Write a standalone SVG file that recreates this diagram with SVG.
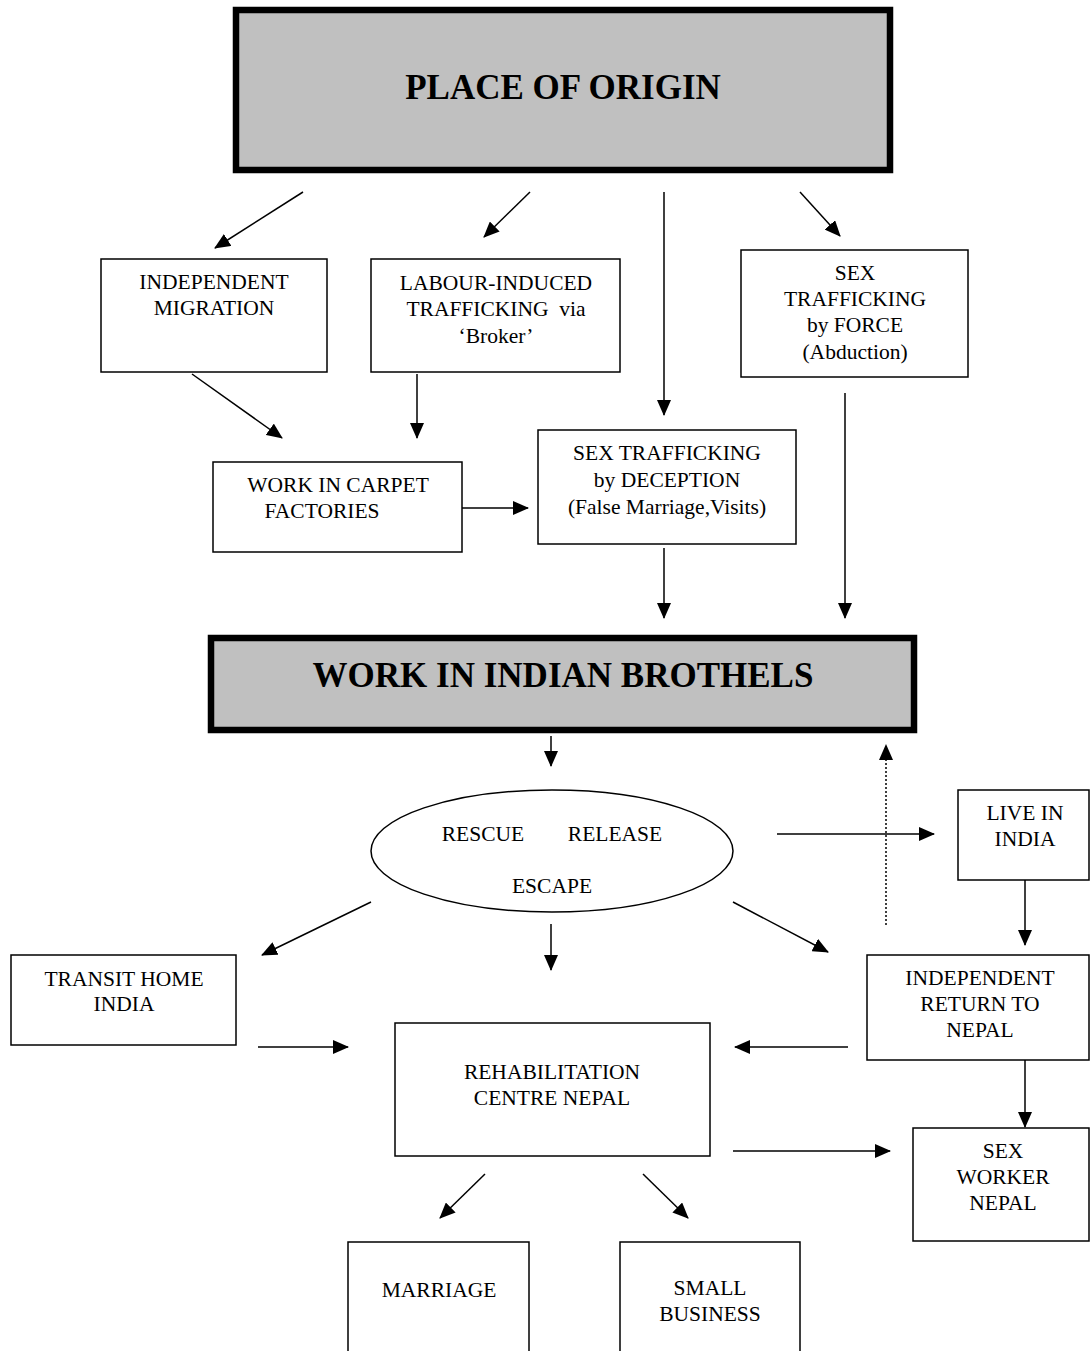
<svg xmlns="http://www.w3.org/2000/svg" width="1090" height="1351" viewBox="0 0 1090 1351">
<style>
.box{fill:#fff;stroke:#000;stroke-width:1.5}
.big{fill:#c0c0c0;stroke:#000;stroke-width:6.5}
.t{font-family:"Liberation Serif","Times New Roman",serif;font-size:21.5px;text-anchor:middle;fill:#000}
.b{font-family:"Liberation Serif","Times New Roman",serif;font-size:35px;font-weight:bold;text-anchor:middle;fill:#000}
.c{stroke:#000;stroke-width:1.5;fill:none;marker-end:url(#ah)}
.d{stroke:#000;stroke-width:1.5;fill:none;stroke-dasharray:2 2;marker-end:url(#ah)}
</style>
<defs>
<marker id="ah" markerUnits="userSpaceOnUse" markerWidth="16" markerHeight="14" refX="15" refY="7" orient="auto">
<path d="M0,0 L16,7 L0,14 Z" fill="#000"/>
</marker>
</defs>
<rect width="1090" height="1351" fill="#fff"/>
<g id="origin"><rect class="big" x="236" y="10" width="654" height="160"/><text class="b" x="563" y="99">PLACE OF ORIGIN</text></g>
<g id="indep-migration"><rect class="box" x="101" y="259" width="226" height="113"/><text class="t" x="214" y="289">INDEPENDENT</text><text class="t" x="214" y="315">MIGRATION</text></g>
<g id="labour"><rect class="box" x="371" y="259" width="249" height="113"/><text class="t" x="496" y="290">LABOUR-INDUCED</text><text class="t" x="496" y="316">TRAFFICKING&#160; via</text><text class="t" x="496" y="343">‘Broker’</text></g>
<g id="force"><rect class="box" x="741" y="250" width="227" height="127"/><text class="t" x="855" y="280">SEX</text><text class="t" x="855" y="306">TRAFFICKING</text><text class="t" x="855" y="332">by FORCE</text><text class="t" x="855" y="359">(Abduction)</text></g>
<g id="carpet"><rect class="box" x="213" y="462" width="249" height="90"/><text class="t" x="338" y="492">WORK IN CARPET</text><text class="t" x="322" y="518">FACTORIES</text></g>
<g id="deception"><rect class="box" x="538" y="430" width="258" height="114"/><text class="t" x="667" y="460">SEX TRAFFICKING</text><text class="t" x="667" y="487">by DECEPTION</text><text class="t" x="667" y="514">(False Marriage,Visits)</text></g>
<g id="brothels"><rect class="big" x="211" y="638" width="703" height="92"/><text class="b" x="563" y="687">WORK IN INDIAN BROTHELS</text></g>
<g id="rescue"><ellipse cx="552" cy="851" rx="181" ry="61" fill="#fff" stroke="#000" stroke-width="1.5"/><text class="t" x="483" y="841">RESCUE</text><text class="t" x="615" y="841">RELEASE</text><text class="t" x="552" y="893">ESCAPE</text></g>
<g id="live-india"><rect class="box" x="958" y="790" width="131" height="90"/><text class="t" x="1025" y="820">LIVE IN</text><text class="t" x="1025" y="846">INDIA</text></g>
<g id="transit"><rect class="box" x="11" y="955" width="225" height="90"/><text class="t" x="124" y="986">TRANSIT HOME</text><text class="t" x="124" y="1011">INDIA</text></g>
<g id="return"><rect class="box" x="867" y="955" width="222" height="105"/><text class="t" x="980" y="985">INDEPENDENT</text><text class="t" x="980" y="1011">RETURN TO</text><text class="t" x="980" y="1037">NEPAL</text></g>
<g id="rehab"><rect class="box" x="395" y="1023" width="315" height="133"/><text class="t" x="552" y="1079">REHABILITATION</text><text class="t" x="552" y="1105">CENTRE NEPAL</text></g>
<g id="sexworker"><rect class="box" x="913" y="1128" width="176" height="113"/><text class="t" x="1003" y="1158">SEX</text><text class="t" x="1003" y="1184">WORKER</text><text class="t" x="1003" y="1210">NEPAL</text></g>
<g id="marriage"><rect class="box" x="348" y="1242" width="181" height="115"/><text class="t" x="439" y="1297">MARRIAGE</text></g>
<g id="business"><rect class="box" x="620" y="1242" width="180" height="115"/><text class="t" x="710" y="1295">SMALL</text><text class="t" x="710" y="1321">BUSINESS</text></g>
<g id="connectors">
<line class="c" x1="303" y1="192" x2="215" y2="248"/>
<line class="c" x1="530" y1="192" x2="484" y2="237"/>
<line class="c" x1="664" y1="192" x2="664" y2="415"/>
<line class="c" x1="800" y1="192" x2="840" y2="236"/>
<line class="c" x1="192" y1="374" x2="282" y2="438"/>
<line class="c" x1="417" y1="374" x2="417" y2="438"/>
<line class="c" x1="462" y1="508" x2="528" y2="508"/>
<line class="c" x1="664" y1="548" x2="664" y2="618"/>
<line class="c" x1="845" y1="393" x2="845" y2="618"/>
<line class="c" x1="551" y1="736" x2="551" y2="766"/>
<line class="c" x1="777" y1="834" x2="934" y2="834"/>
<line class="d" x1="886" y1="925" x2="886" y2="745"/>
<line class="c" x1="1025" y1="880" x2="1025" y2="945"/>
<line class="c" x1="371" y1="902" x2="262" y2="955"/>
<line class="c" x1="733" y1="902" x2="828" y2="952"/>
<line class="c" x1="551" y1="924" x2="551" y2="970"/>
<line class="c" x1="258" y1="1047" x2="348" y2="1047"/>
<line class="c" x1="848" y1="1047" x2="735" y2="1047"/>
<line class="c" x1="1025" y1="1060" x2="1025" y2="1127"/>
<line class="c" x1="733" y1="1151" x2="890" y2="1151"/>
<line class="c" x1="485" y1="1174" x2="440" y2="1218"/>
<line class="c" x1="643" y1="1174" x2="688" y2="1218"/>
</g>
</svg>
